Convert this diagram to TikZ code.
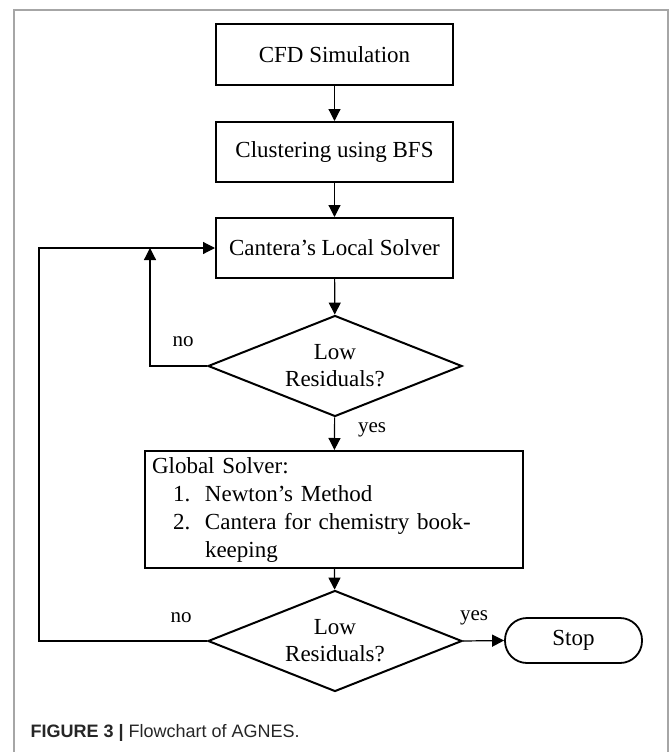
\documentclass[tikz,border=0pt]{standalone}
\usepackage{fontspec}
\setmainfont{Liberation Serif}
\newfontfamily\capfont{Liberation Sans}
\usetikzlibrary{shapes.geometric,arrows.meta}

\tikzset{
  box/.style={draw, line width=2pt, minimum width=237pt, minimum height=60pt,
              inner sep=0pt, font=\fontsize{23}{28}\selectfont},
  decision/.style={draw, diamond, aspect=2.5, line width=2pt, minimum width=254pt,
              minimum height=101pt, inner sep=0pt, align=center,
              font=\fontsize{23}{27}\selectfont},
  stopbox/.style={draw, line width=1.8pt, rounded corners=22pt, minimum width=137pt,
              minimum height=45pt, font=\fontsize{23}{28}\selectfont},
  flow/.style={line width=1.2pt, -{Triangle[length=12pt,width=12pt]}},
  lbl/.style={font=\fontsize{21}{21}\selectfont}
}

\begin{document}
\begin{tikzpicture}[x=1pt,y=-1pt]
\useasboundingbox (0,0) rectangle (670,752);
% frame
\draw[gray!70, line width=1.5pt] (14,752) -- (14,10) -- (668,10) -- (668,752);

% nodes
\node[box] (cfd) at (334.5,54.5) {CFD Simulation};
\node[box] (clust) at (334.5,152) {Clustering using BFS};
\node[box] (local) at (334.5,248) {Cantera's Local Solver};
\node[decision] (dec1) at (335,366) {Low\\Residuals?};
\node[box, minimum width=378pt, minimum height=117pt, text width=364pt,
      inner xsep=7pt, inner ysep=3pt, align=left] (glob) at (334,509.5)
  {Global Solver:\\
   \hspace*{21pt}\makebox[32pt][l]{1.}Newton's Method\\
   \hspace*{21pt}\makebox[32pt][l]{2.}Cantera for chemistry book-\\
   \hspace*{53pt}keeping};
\node[decision] (dec2) at (335,641) {Low\\Residuals?};
\node[stopbox] (stop) at (573.5,640.5) {Stop};

\coordinate (back) at (150,248);
\coordinate (loop) at (39,641);

% connectors
\draw[flow] (cfd) -- (clust);
\draw[flow] (clust) -- (local);
\draw[flow] (local) -- (dec1);
\draw[flow] (dec1.west) -| (back);
\draw[flow] (dec1) -- (glob);
\draw[flow] (glob) -- (dec2);
\draw[flow] (dec2.east) -- (stop.west);
\draw[flow] (dec2.west) -- (loop) |- (local.west);

% labels
\node[lbl] (no1) at (183,342) {no};
\node[lbl] (yes1) at (372,430) {yes};
\node[lbl] (no2) at (181,618) {no};
\node[lbl] (yes2) at (474,618) {yes};

% caption
\node[anchor=west, text=black!85, font=\capfont\fontsize{18}{18}\selectfont]
  (cap) at (27,733) {{\bfseries FIGURE 3 |} Flowchart of AGNES.};
\end{tikzpicture}
\end{document}
